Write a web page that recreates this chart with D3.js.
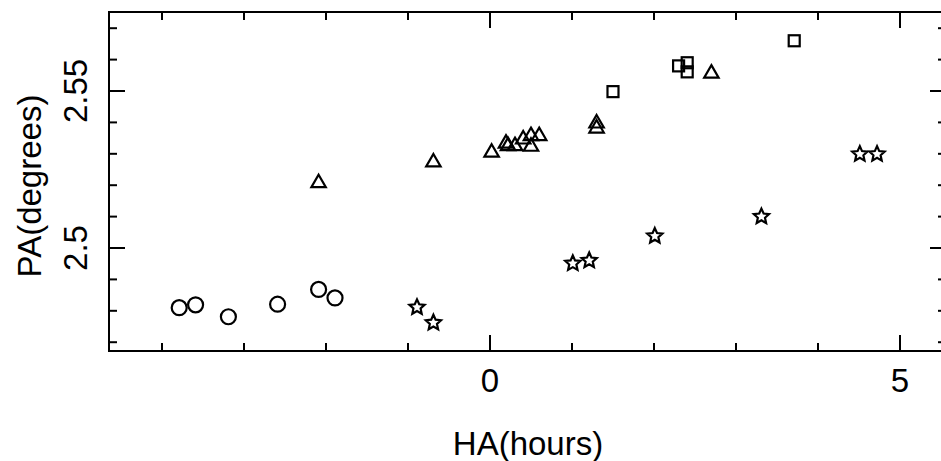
<!DOCTYPE html>
<html>
<head>
<meta charset="utf-8">
<script src="https://cdn.jsdelivr.net/npm/d3@7"></script>
<style>
  html, body { margin: 0; padding: 0; background: #fff; }
  svg { display: block; font-family: 'Liberation Sans', Helvetica, Arial, sans-serif; }
</style>
</head>
<body>
<svg id="chart" width="941" height="461"></svg>
<script>
// HA (hours) vs PA (degrees), one array per marker group
const circles = [
  [-3.79, 2.4810], [-3.59, 2.4819], [-3.19, 2.4781],
  [-2.59, 2.4821], [-2.09, 2.4868], [-1.89, 2.4841]
];
const stars = [
  [-0.89, 2.4811], [-0.69, 2.4762], [1.01, 2.4951], [1.21, 2.4960],
  [2.01, 2.5038], [3.31, 2.5100], [4.51, 2.5299], [4.72, 2.5299]
];
const triangles = [
  [-2.09, 2.5207], [-0.69, 2.5273], [0.02, 2.5304], [0.195, 2.5333],
  [0.22, 2.5325], [0.305, 2.5325], [0.405, 2.5346], [0.50, 2.5357],
  [0.50, 2.5323], [0.60, 2.5357], [1.30, 2.5397], [1.30, 2.5381],
  [2.70, 2.5556]
];
const squares = [
  [1.50, 2.5498], [2.30, 2.5580], [2.405, 2.5590], [2.405, 2.5561], [3.71, 2.5660]
];

const xMajor = [0, 5];
const xMinor = [-4, -3, -2, -1, 1, 2, 3, 4];
const yMajor = [2.5, 2.55];
const yMinor = [2.47, 2.48, 2.49, 2.51, 2.52, 2.53, 2.54, 2.56, 2.57];

const plotLeft = 109, plotRight = 946, plotTop = 12, plotBottom = 351;
const majorLen = 16, minorLen = 8;
const fontSize = 33;

const x = d3.scaleLinear().domain([-4.646, 5.561]).range([plotLeft, plotRight]);
const y = d3.scaleLinear().domain([2.4672, 2.57516]).range([plotBottom, plotTop]);

const svg = d3.select('#chart');

// frame
svg.append('rect')
  .attr('x', plotLeft).attr('y', plotTop)
  .attr('width', plotRight - plotLeft).attr('height', plotBottom - plotTop)
  .attr('fill', 'none').attr('stroke', '#000').attr('stroke-width', 2);

// ticks on all four sides
const ticks = svg.append('g').attr('stroke', '#000').attr('stroke-width', 2);
function xTicks(vals, len) {
  vals.forEach((v) => {
    ticks.append('line').attr('x1', x(v)).attr('x2', x(v)).attr('y1', plotBottom).attr('y2', plotBottom - len);
    ticks.append('line').attr('x1', x(v)).attr('x2', x(v)).attr('y1', plotTop).attr('y2', plotTop + len);
  });
}
function yTicks(vals, len) {
  vals.forEach((v) => {
    ticks.append('line').attr('x1', plotLeft).attr('x2', plotLeft + len).attr('y1', y(v)).attr('y2', y(v));
    ticks.append('line').attr('x1', plotRight).attr('x2', plotRight - len).attr('y1', y(v)).attr('y2', y(v));
  });
}
xTicks(xMajor, majorLen);
xTicks(xMinor, minorLen);
yTicks(yMajor, majorLen);
yTicks(yMinor, minorLen);

// tick labels
svg.append('g')
  .selectAll('text')
  .data(xMajor)
  .join('text')
  .attr('x', (d) => x(d))
  .attr('y', 392)
  .attr('text-anchor', 'middle')
  .attr('font-size', fontSize)
  .text((d) => d);

svg.append('g')
  .selectAll('text')
  .data(yMajor)
  .join('text')
  .attr('transform', (d) => `translate(87,${y(d)}) rotate(-90)`)
  .attr('text-anchor', 'middle')
  .attr('font-size', fontSize)
  .text((d) => d);

// axis titles
svg.append('text')
  .attr('x', 528).attr('y', 455)
  .attr('text-anchor', 'middle')
  .attr('font-size', fontSize)
  .text('HA(hours)');

svg.append('text')
  .attr('transform', `translate(41,186) rotate(-90)`)
  .attr('text-anchor', 'middle')
  .attr('font-size', fontSize)
  .text('PA(degrees)');

// markers
const marks = svg.append('g')
  .attr('fill', 'none').attr('stroke', '#000').attr('stroke-width', 2.2)
  .attr('stroke-linejoin', 'miter');

marks.selectAll('.circ')
  .data(circles)
  .join('circle')
  .attr('class', 'circ')
  .attr('cx', (d) => x(d[0]))
  .attr('cy', (d) => y(d[1]))
  .attr('r', 7.5);

const tri = d3.symbol().type(d3.symbolTriangle).size(90);
marks.selectAll('.tri')
  .data(triangles)
  .join('path')
  .attr('class', 'tri')
  .attr('d', tri)
  .attr('transform', (d) => `translate(${x(d[0])},${y(d[1])})`);

marks.selectAll('.sq')
  .data(squares)
  .join('rect')
  .attr('class', 'sq')
  .attr('x', (d) => x(d[0]) - 5.5)
  .attr('y', (d) => y(d[1]) - 5.5)
  .attr('width', 11).attr('height', 11);

// five-point star, a bit fatter than d3.symbolStar
const fatStar = {
  draw(context, size) {
    const R = size, r = size * 0.47;
    for (let i = 0; i < 10; i++) {
      const a = -Math.PI / 2 + i * Math.PI / 5;
      const rad = i % 2 ? r : R;
      if (i === 0) context.moveTo(rad * Math.cos(a), rad * Math.sin(a));
      else context.lineTo(rad * Math.cos(a), rad * Math.sin(a));
    }
    context.closePath();
  }
};
const star = d3.symbol().type(fatStar).size(8);
marks.selectAll('.star')
  .data(stars)
  .join('path')
  .attr('class', 'star')
  .attr('d', star)
  .attr('transform', (d) => `translate(${x(d[0])},${y(d[1])})`);
</script>
</body>
</html>
